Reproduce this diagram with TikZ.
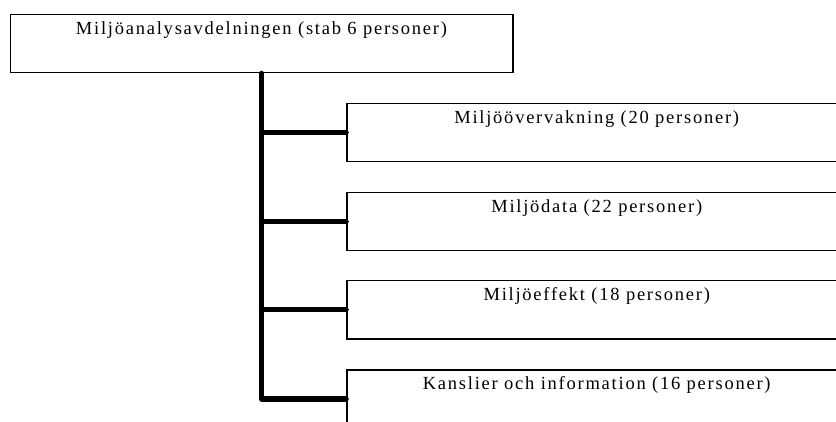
\documentclass[tikz,border=0pt]{standalone}
\usepackage{fontspec}
\setmainfont[LetterSpace=9.5]{Liberation Serif}

\begin{document}
\begin{tikzpicture}[x=1pt,y=-1pt,
  orgbox/.style={draw,line width=1.5pt,inner sep=0pt,text height=19.5pt,text depth=38.5pt,
    anchor=north west,font=\fontsize{18.5}{22}\selectfont},
  link/.style={line width=5.5pt,line cap=round,line join=round}]

\useasboundingbox (0,0) rectangle (836,422);
\clip (0,0) rectangle (836,422);

\node[orgbox,minimum width=502.5pt] (stab) at (9.5,14) {Miljöanalysavdelningen (stab 6 personer)};

\node[orgbox,minimum width=500pt] (overv) at (346,103) {Miljöövervakning (20 personer)};
\node[orgbox,minimum width=500pt] (data) at (346,192) {Miljödata (22 personer)};
\node[orgbox,minimum width=500pt] (effekt) at (346,280) {Miljöeffekt (18 personer)};
\node[orgbox,minimum width=500pt] (kansli) at (346,369) {Kanslier och information (16 personer)};

\draw[link] (stab.south) |- (kansli.west);
\draw[link] (stab.south |- overv.west) -- (overv.west);
\draw[link] (stab.south |- data.west) -- (data.west);
\draw[link] (stab.south |- effekt.west) -- (effekt.west);

\end{tikzpicture}
\end{document}
